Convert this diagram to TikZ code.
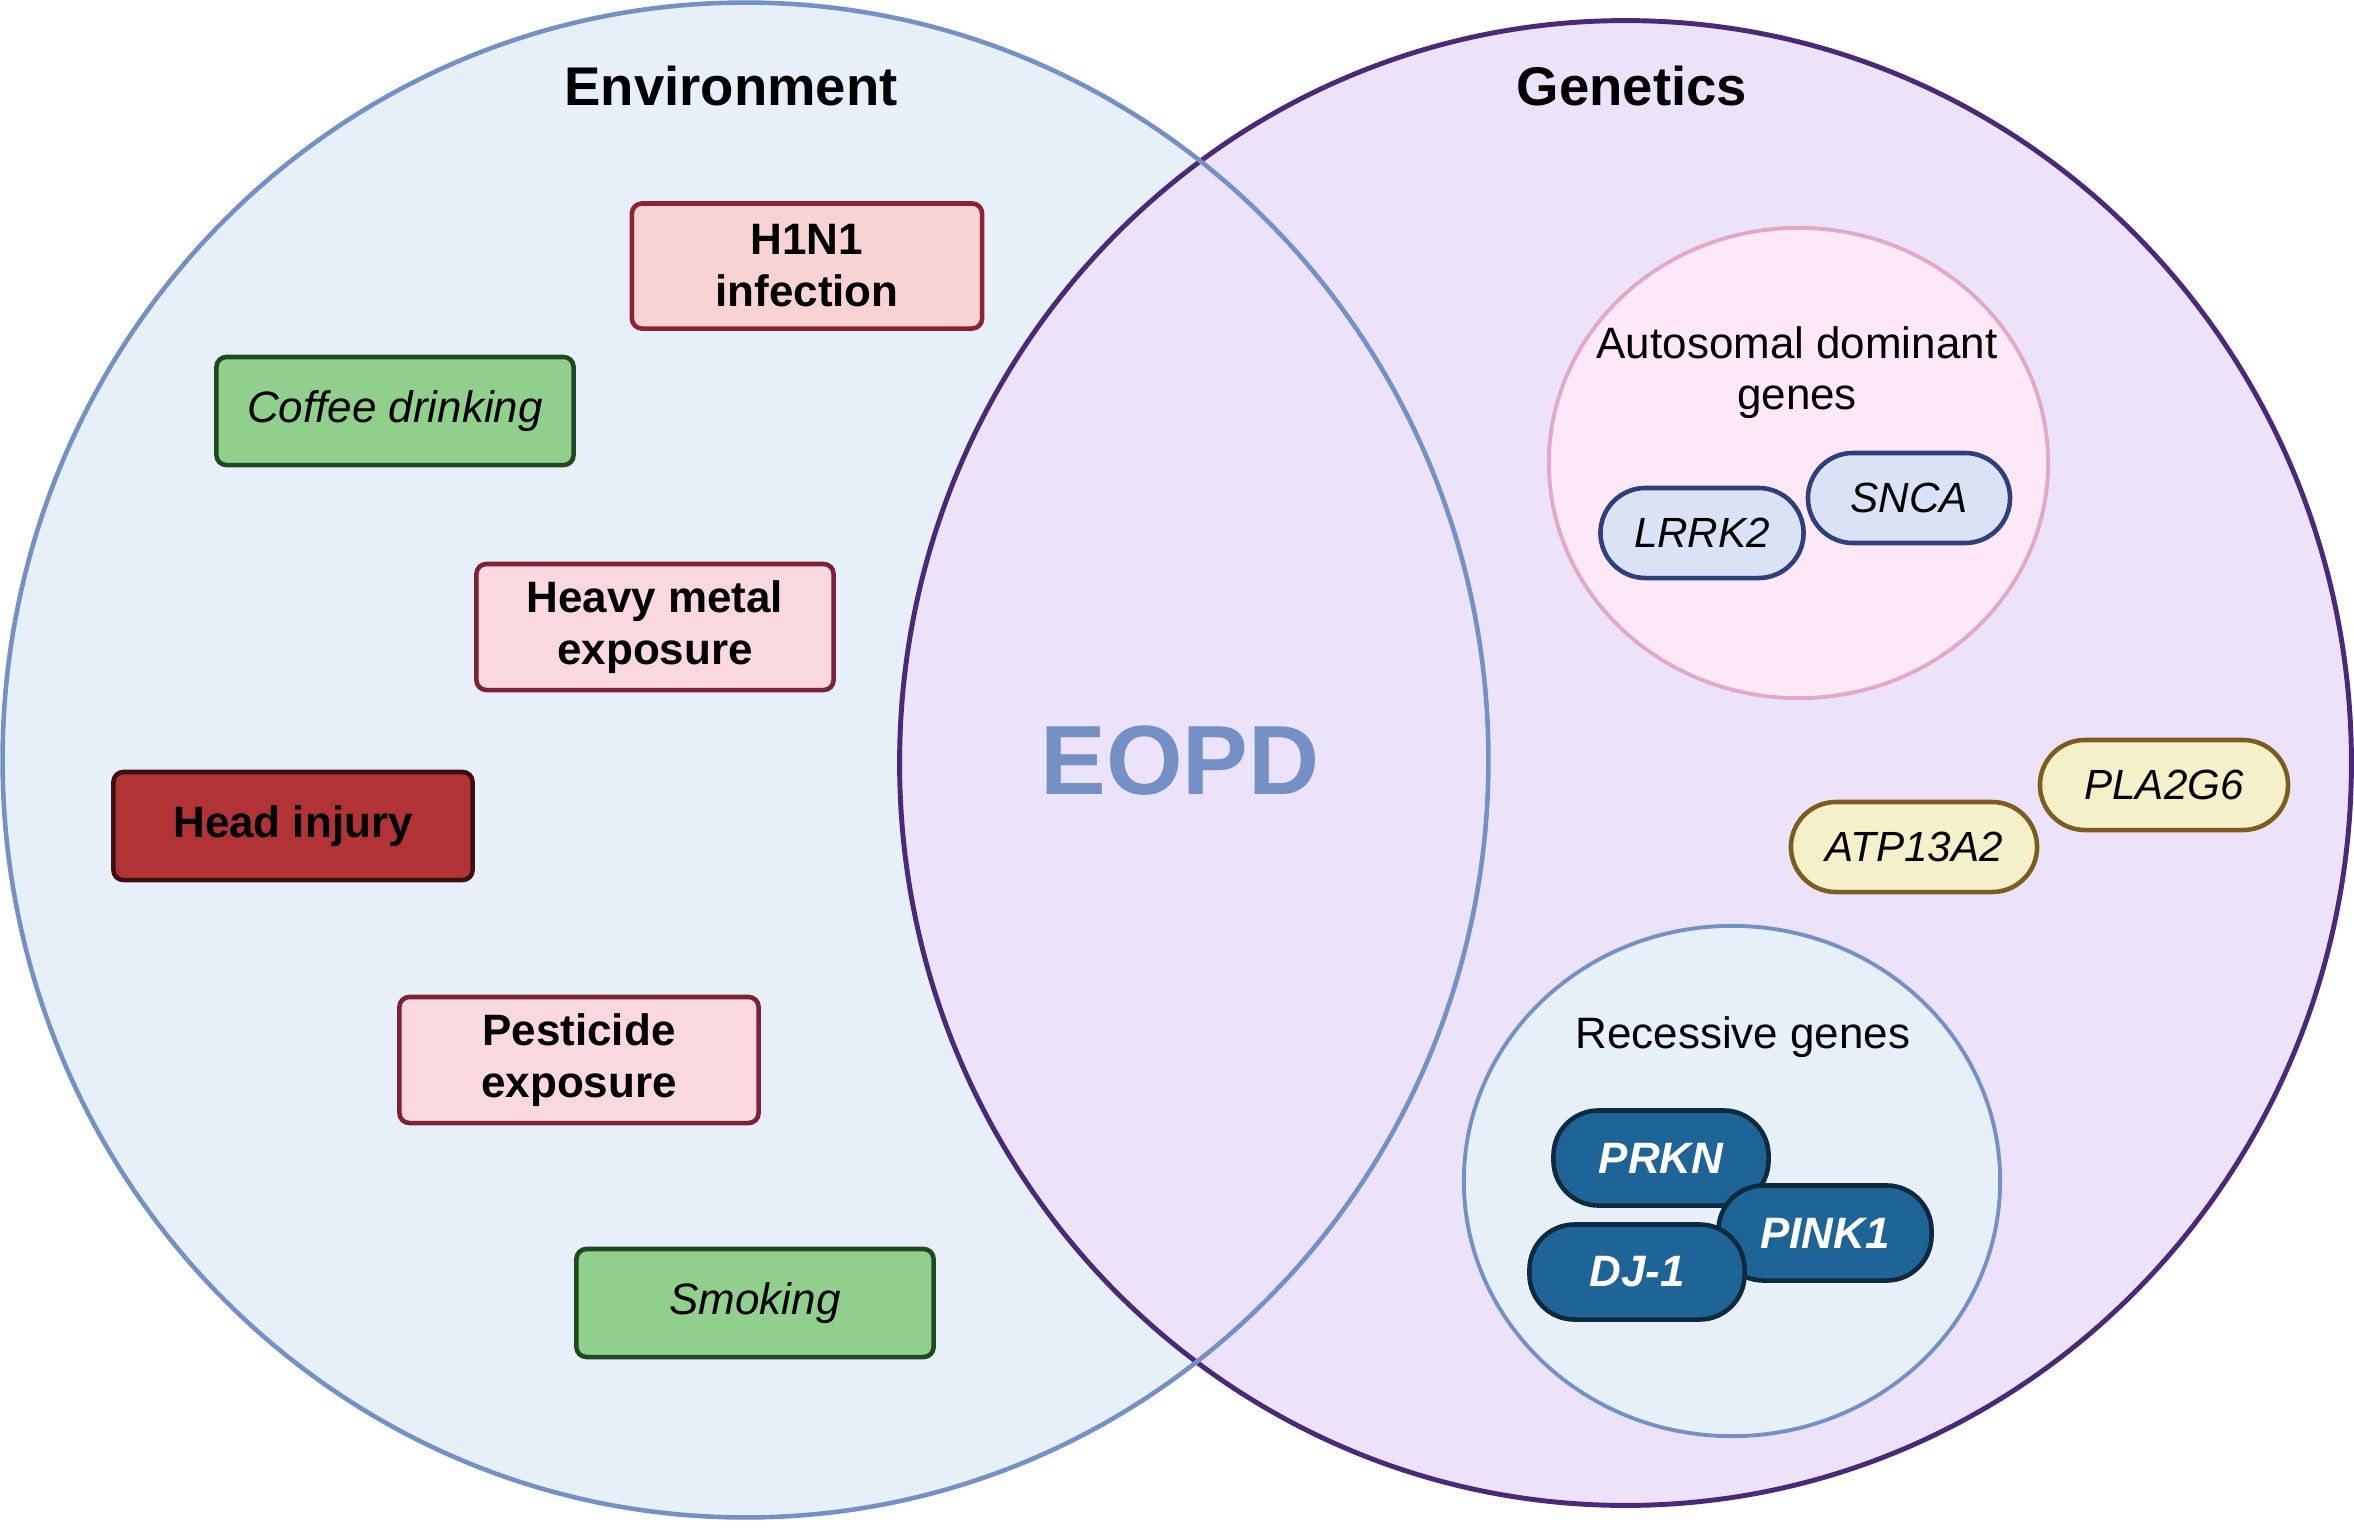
\documentclass[tikz,border=0pt]{standalone}
\usepackage{fontspec}
\setmainfont{Liberation Sans}
\usepackage{tikz}
\usetikzlibrary{shapes}
\definecolor{envfill}{HTML}{E7EFF9}
\definecolor{envline}{HTML}{7590C4}
\definecolor{genfill}{HTML}{ECE3FA}
\definecolor{genline}{HTML}{4A2A78}
\definecolor{autofill}{HTML}{FCE8F6}
\definecolor{autoline}{HTML}{E2A9C6}
\definecolor{h1fill}{HTML}{F8D3D3}
\definecolor{h1line}{HTML}{8B2332}
\definecolor{pinkfill}{HTML}{F9D8DF}
\definecolor{pinkline}{HTML}{7B2237}
\definecolor{greenfill}{HTML}{90CF8C}
\definecolor{greenline}{HTML}{1F4A1F}
\definecolor{headfill}{HTML}{B23335}
\definecolor{headline}{HTML}{3D1010}
\definecolor{adfill}{HTML}{D9E3F5}
\definecolor{adline}{HTML}{2F3F7C}
\definecolor{yelfill}{HTML}{F4F0C9}
\definecolor{yelline}{HTML}{7B5E1F}
\definecolor{recfill}{HTML}{1E6496}
\definecolor{recline}{HTML}{0E2A3E}
\tikzstyle{titletext}=[font=\fontsize{15.5}{18}\selectfont\bfseries]
\tikzstyle{subtext}=[align=center, font=\fontsize{12.5}{14.5}\selectfont]
\tikzstyle{factor}=[rectangle, rounded corners=0.1cm, line width=1.3pt,
                minimum width=3.57cm, inner sep=0pt, align=center,
                font=\fontsize{12.5}{14.8}\selectfont\bfseries]
\tikzstyle{highrisk}=[factor, fill=pinkfill, draw=pinkline, minimum height=1.26cm]
\tikzstyle{lowrisk}=[factor, fill=greenfill, draw=greenline, minimum height=1.08cm,
                font=\fontsize{12.5}{14.8}\selectfont\itshape]
\tikzstyle{gene}=[rectangle, rounded corners=0.45cm, line width=1.3pt,
                minimum height=0.9cm, inner sep=0pt,
                font=\fontsize{12}{14}\selectfont\itshape]
\tikzstyle{adgene}=[gene, fill=adfill, draw=adline]
\tikzstyle{othgene}=[gene, fill=yelfill, draw=yelline]
\tikzstyle{recgene}=[gene, fill=recfill, draw=recline, minimum height=0.95cm,
                text=white, font=\fontsize{12.5}{14}\selectfont\bfseries\itshape]

\begin{document}
\begin{tikzpicture}[x=0.01cm, y=-0.01cm]
\useasboundingbox (0,0) rectangle (2354,1536);
% the two sets
\fill[envfill] (745.5,760) ellipse [x radius=7.425cm, y radius=7.57cm];
\draw[genline, fill=genfill, line width=1.4pt]
  (1625.5,763) ellipse [x radius=7.255cm, y radius=7.42cm];
\draw[envline, line width=1.3pt] (745.5,760) ellipse [x radius=7.425cm, y radius=7.57cm];
\node[titletext] (envtitle) at (731,86) {Environment};
\node[titletext] (gentitle) at (1632,86) {Genetics};
\node[text=envline, font=\fontsize{28}{30}\selectfont\bfseries] (eopd) at (1180,761) {EOPD};

% environmental factors
\node[highrisk, fill=h1fill, draw=h1line, minimum width=3.50cm, minimum height=1.25cm]
  (h1n1) at (807,266) {H1N1\\infection};
\node[lowrisk] (coffee) at (395,411) {Coffee drinking};
\node[highrisk] (metal) at (655,627) {Heavy metal\\exposure};
\node[factor, fill=headfill, draw=headline, minimum width=3.59cm, minimum height=1.08cm]
  (head) at (293,826) {Head injury};
\node[highrisk, minimum width=3.59cm] (pest) at (579,1060) {Pesticide\\exposure};
\node[lowrisk] (smoke) at (755,1303) {Smoking};

% autosomal dominant genes
\draw[autoline, fill=autofill, line width=1.1pt]
  (1798.5,463) ellipse [x radius=2.495cm, y radius=2.35cm];
\node[subtext] (adlabel) at (1797,373) {Autosomal dominant\\genes};
\node[adgene, minimum width=2.03cm] (lrrk2) at (1702,533) {LRRK2};
\node[adgene, minimum width=2.02cm] (snca) at (1909,498) {SNCA};

% other genes
\node[othgene, minimum width=2.46cm] (atp) at (1914,847) {ATP13A2};
\node[othgene, minimum width=2.48cm] (pla) at (2164,785) {PLA2G6};

% recessive genes
\draw[envline, fill=envfill, line width=1.1pt]
  (1732,1181) ellipse [x radius=2.68cm, y radius=2.55cm];
\node[subtext] (reclabel) at (1743,1037) {Recessive genes};
\node[recgene, minimum width=2.15cm] (prkn) at (1661,1158) {PRKN};
\node[recgene, minimum width=2.13cm] (pink) at (1825,1233) {PINK1};
\node[recgene, minimum width=2.15cm] (dj) at (1637,1272) {DJ-1};
\end{tikzpicture}
\end{document}
